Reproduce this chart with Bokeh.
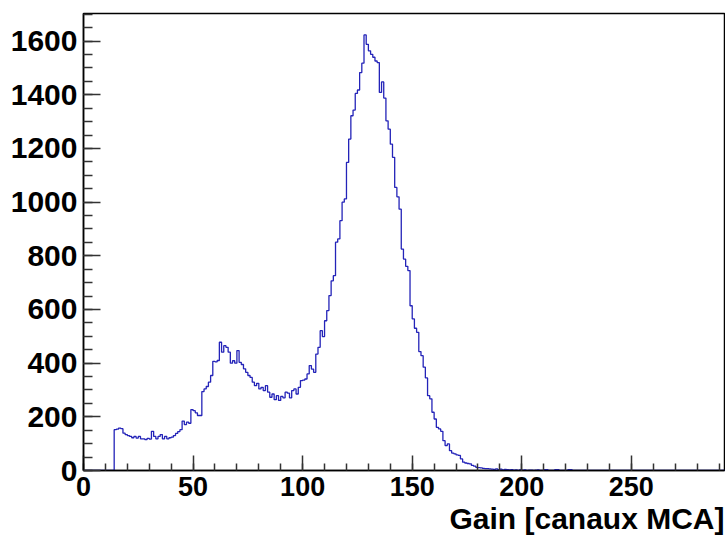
import numpy as np
from bokeh.plotting import figure
from bokeh.models import Range1d, FixedTicker, Title
from bokeh.embed import file_html
from bokeh.resources import INLINE

# ---- data: MCA channel histogram (bin width = 1 channel) ----
first_channel = 14
counts_low = [152, 154, 158, 156, 139, 134, 130, 127, 122, 127, 121, 127, 118, 118, 115, 120, 117,
              146, 127, 118, 127, 134, 118, 127, 118, 122, 124, 130, 138, 145, 152, 184, 171, 180,
              176, 227, 223, 215, 205, 205]                                  # channels 14..53
counts_bump = [294, 304, 313, 329, 354, 407, 405, 410, 478, 441, 465, 459, 441, 400, 409, 400,
               447, 403, 395, 379, 366, 354, 347, 329, 316, 325, 304, 310, 298, 316, 292, 273,
               285, 264, 279, 261, 276, 271, 292, 288, 271, 298, 304, 285, 310]  # 54..98
counts_rise = [335, 337, 341, 360, 391, 378, 366, 434, 459, 521, 499, 558, 596, 652, 707, 726,
               851, 863, 931, 1000, 1012, 1148, 1235, 1322, 1343, 1405, 1418, 1483, 1518]  # 99..127
counts_peak = [1623, 1588, 1564, 1551, 1540, 1526, 1520, 1409, 1448, 1388, 1303, 1272, 1216,
               1167, 1055, 1020, 974, 825, 788, 761, 745, 614, 565, 530, 515, 443, 428, 385,
               345, 279, 267, 217, 192]                                      # 128..160
counts_tail = [161, 155, 146, 111, 93, 99, 74, 65, 62, 58, 56, 43, 31, 28, 26, 25, 19, 16, 12,
               11, 10, 8, 7, 7, 6, 5, 4, 6, 3, 5, 2, 4, 3, 2, 3, 1, 2, 0, 3, 1, 2, 0, 1, 1, 0,
               1, 2, 0, 0, 3, 3, 0, 0, 0, 3, 3, 0, 0, 0, 0, 3, 3]             # 161..222
n_channels = 293

x_ticks = [0, 50, 100, 150, 200, 250]
y_ticks = [0, 200, 400, 600, 800, 1000, 1200, 1400, 1600]
x_title = "Gain [canaux MCA]"

# ---- build histogram ----
counts = np.zeros(n_channels)
filled = counts_low + counts_bump + counts_rise + counts_peak + counts_tail
counts[first_channel:first_channel + len(filled)] = filled
edges = np.arange(n_channels + 1)
step_y = np.append(counts, counts[-1])

p = figure(width=725, height=536, output_backend="svg", toolbar_location=None,
           x_range=Range1d(0, 292.5), y_range=Range1d(0, 1703),
           min_border_left=83, min_border_right=1, min_border_top=13, min_border_bottom=0)
p.grid.visible = False
p.outline_line_color = "black"
p.outline_line_width = 1.5
p.background_fill_color = "white"
p.border_fill_color = "white"

p.step(edges, step_y, mode="after", line_color="#2323b8", line_width=1.3)

font = "Liberation Sans"
xa = p.xaxis[0]
xa.ticker = FixedTicker(ticks=x_ticks, minor_ticks=list(range(0, 293, 10)))
ya = p.yaxis[0]
ya.ticker = FixedTicker(ticks=y_ticks, minor_ticks=list(range(0, 1703, 50)))
for ax in (xa, ya):
    ax.axis_line_color = "black"
    ax.axis_line_width = 1.5
    ax.major_tick_out = 0
    ax.minor_tick_out = 0
    ax.major_tick_line_color = "#333333"
    ax.minor_tick_line_color = "#333333"
    ax.major_tick_line_width = 1.5
    ax.minor_tick_line_width = 1.5
    ax.major_label_text_font = font
    ax.major_label_text_font_style = "bold"
    ax.major_label_text_color = "black"
xa.major_tick_in = 15
xa.minor_tick_in = 7
ya.major_tick_in = 17
ya.minor_tick_in = 9
xa.major_label_text_font_size = "27px"
ya.major_label_text_font_size = "30px"
xa.major_label_standoff = 6
ya.major_label_standoff = 6

t = Title(text=x_title, align="right", text_font=font, text_font_style="bold",
          text_font_size="30px", text_color="black", standoff=3, offset=0)
p.add_layout(t, "below")

open("out.html", "w").write(file_html(p, INLINE))
